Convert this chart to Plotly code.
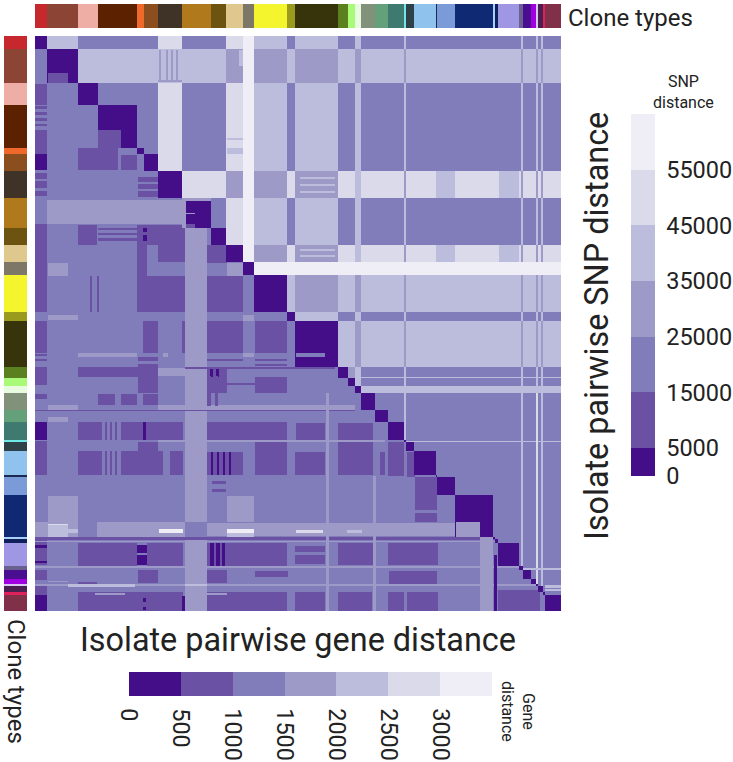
import numpy as np
import plotly.graph_objects as go

FONT = "Roboto"
INK = "#222222"

# clone types along the isolate order
clone_colors = [
    "#c7282e", "#8c4534", "#efaea5", "#5c2200", "#ef6a2a", "#8a4e1f", "#3f3226",
    "#b07a1c", "#6c5410", "#dfc88e", "#7d7767", "#f5f52e", "#9a9a1e", "#37340c",
    "#5a8020", "#a8fa78", "#e8fbe0", "#82917a", "#64a07a", "#3f7a70", "#6fe8e8",
    "#2e4048", "#8fc3ee", "#1a2a50", "#7a9ad8", "#0f2a72", "#a8d0f8", "#10205a",
    "#9f96e4", "#6a6090", "#4a0f90", "#a000e0", "#d8c8f0", "#4a2050", "#e0205a",
    "#803048",
]
clone_col_edges = [0, 12, 43, 63, 102, 109, 123, 147, 176, 191, 208, 219, 252, 260, 303,
                   313, 320, 326, 340, 353, 369, 371, 379, 401, 402, 420, 458, 460, 463,
                   484, 488, 496, 501, 503, 508, 510, 526]
clone_row_edges = [0, 13, 47, 69, 112, 118, 135, 162, 192, 209, 226, 239, 276, 285, 331,
                   342, 350, 357, 374, 386, 404, 406, 415, 439, 441, 459, 501, 503, 507,
                   530, 534, 543, 548, 550, 556, 559, 575]

# colour bands of the two legends
purples = ["#430e87", "#6a51a3", "#807dba", "#9e9ac8", "#bcbddc", "#dadaeb", "#efedf5"]
snp_bands = [0, 5000, 15000, 25000, 35000, 45000, 55000, 65000]
gene_bands = [0, 500, 1000, 1500, 2000, 2500, 3000, 3500]
snp_ticks = [0, 5000, 15000, 25000, 35000, 45000, 55000]
gene_ticks = [0, 500, 1000, 1500, 2000, 2500, 3000]

# upper triangle: SNP band per row group / column group, one digit per column group
snp_group_cols = [0, 12, 43, 123, 147, 191, 208, 219, 252, 260, 303, 313, 320, 326, 369,
                  371, 486, 488, 501, 503, 506, 508, 510, 526]
snp_group_rows = [0, 13, 47, 135, 162, 209, 226, 239, 276, 285, 331, 342, 350, 357, 575]
snp_table = [
    "04252564242242424242422",
    "00444363434434343434344",
    "00252564242242424242422",
    "00005363535545353535355",
    "00002564242242424242422",
    "00000063535545353535355",
    "66666666666666666666666",
    "00000000434434343434344",
    "00000000042242424242422",
    "00000000004434343434344",
    "00000000000342424242422",
    "00000000000042424242422",
    "00000000000004444444444",
    "00000000000002424242422",
]
# (col from, col to, row from, row to, band)
snp_patches = [
    (124, 126, 14, 46, 3), (131, 133, 14, 46, 3), (136, 138, 14, 46, 3), (141, 143, 14, 46, 3),
    (123, 147, 44, 46, 3), (204, 208, 14, 30, 4), (192, 208, 102, 104, 4), (192, 208, 112, 118, 4),
    (265, 300, 141, 143, 4), (265, 300, 148, 150, 4), (265, 300, 155, 157, 4),
    (265, 300, 213, 215, 4), (265, 300, 219, 221, 4),
    (401, 420, 135, 162, 4), (464, 484, 135, 162, 4), (401, 420, 209, 226, 4), (464, 484, 209, 226, 4),
    (326, 526, 341, 342, 4), (369, 526, 405, 406, 4),
    (501, 503, 357, 575, 5), (488, 526, 532, 534, 4), (510, 526, 549, 552, 4), (510, 526, 553, 555, 4),
]

# lower triangle: gene band, everything starts in band 2
gene_patches = [
    (12, 151, 164, 188, 3), (150, 172, 187, 575, 3),
    (0, 12, 48, 69, 1), (0, 12, 70, 73, 1), (0, 12, 76, 79, 1), (0, 12, 82, 85, 1), (0, 12, 88, 90, 1),
    (0, 12, 94, 118, 1), (0, 12, 118, 134, 0), (0, 12, 137, 143, 1), (0, 12, 145, 152, 1),
    (0, 12, 155, 160, 1), (0, 12, 188, 276, 1), (0, 12, 285, 317, 1), (0, 12, 318, 320, 1),
    (0, 12, 323, 325, 1), (0, 12, 331, 349, 1), (0, 12, 358, 363, 1), (0, 12, 386, 404, 0),
    (0, 12, 405, 439, 1), (0, 12, 504, 529, 1), (0, 12, 509, 512, 0), (0, 12, 525, 527, 0),
    (0, 12, 534, 544, 1), (0, 12, 550, 559, 1), (0, 12, 559, 575, 0),
    (43, 83, 112, 134, 1), (86, 102, 119, 134, 1),
    (103, 123, 141, 146, 1), (103, 123, 148, 153, 1), (103, 123, 155, 161, 1),
    (43, 62, 189, 209, 1), (63, 102, 192, 194, 1), (63, 102, 197, 199, 1), (63, 102, 202, 205, 1),
    (102, 150, 189, 209, 1), (108, 112, 192, 196, 0), (108, 112, 199, 205, 0),
    (102, 112, 209, 240, 1), (123, 150, 209, 226, 1), (172, 192, 209, 227, 1), (192, 208, 227, 240, 3),
    (13, 33, 227, 240, 3), (102, 150, 240, 276, 1), (172, 208, 240, 276, 1),
    (55, 57, 240, 276, 1), (62, 64, 240, 276, 1),
    (13, 43, 279, 284, 3), (208, 219, 279, 285, 3),
    (108, 123, 285, 317, 1), (147, 150, 285, 317, 1), (172, 208, 285, 317, 1), (220, 252, 285, 317, 1),
    (43, 102, 317, 321, 3), (128, 133, 317, 321, 3), (208, 219, 317, 321, 3),
    (103, 123, 321, 325, 1), (103, 123, 328, 331, 1), (172, 208, 323, 325, 1),
    (220, 252, 323, 325, 1), (220, 252, 328, 330, 1),
    (43, 123, 331, 341, 1), (123, 150, 332, 340, 3), (172, 192, 331, 341, 1),
    (175, 178, 331, 345, 0), (181, 184, 331, 345, 0), (150, 300, 331, 333, 1),
    (103, 123, 341, 357, 1), (220, 252, 341, 357, 1), (172, 192, 341, 357, 1), (192, 220, 347, 349, 1),
    (63, 80, 358, 369, 1), (86, 102, 358, 369, 1), (108, 123, 358, 369, 1),
    (13, 43, 369, 374, 3), (123, 320, 369, 374, 3), (0, 320, 374, 375, 1), (13, 33, 381, 386, 3),
    (172, 176, 340, 370, 1), (180, 183, 340, 370, 1),
    (43, 67, 386, 404, 1), (70, 72, 386, 404, 1), (75, 77, 386, 404, 1), (80, 82, 386, 404, 1),
    (86, 108, 386, 404, 1), (108, 111, 386, 404, 0), (111, 148, 386, 404, 1),
    (172, 252, 386, 404, 1), (261, 290, 387, 404, 1), (303, 338, 387, 404, 1),
    (123, 350, 404, 406, 3), (103, 123, 406, 415, 1),
    (43, 67, 415, 439, 1), (70, 72, 415, 439, 1), (75, 77, 415, 439, 1), (80, 82, 415, 439, 1),
    (86, 128, 415, 439, 1), (135, 148, 415, 439, 1), (172, 208, 416, 439, 1),
    (176, 178, 416, 439, 0), (182, 184, 416, 439, 0), (188, 190, 416, 439, 0), (194, 196, 416, 439, 0),
    (220, 252, 406, 439, 1), (260, 290, 416, 439, 1), (303, 338, 406, 439, 1), (345, 350, 416, 439, 1),
    (353, 369, 406, 440, 1), (372, 380, 416, 441, 1), (380, 402, 441, 474, 1), (380, 402, 477, 486, 1),
    (177, 191, 445, 448, 1), (177, 191, 453, 456, 1),
    (13, 43, 460, 501, 3), (192, 219, 460, 486, 3),
    (0, 13, 486, 501, 3), (62, 150, 486, 501, 3), (172, 420, 487, 500, 3), (150, 172, 486, 501, 2),
    (13, 33, 489, 501, 4), (13, 33, 488, 489, 5), (33, 43, 493, 497, 4), (124, 148, 493, 497, 6),
    (192, 219, 493, 497, 6), (192, 219, 497, 501, 4), (261, 288, 494, 497, 5), (312, 327, 494, 497, 4),
    (0, 463, 501, 504, 1), (0, 463, 505, 506, 3),
    (43, 102, 507, 530, 1), (102, 112, 509, 517, 0), (102, 112, 519, 529, 0), (112, 148, 507, 530, 1),
    (172, 188, 507, 530, 1), (175, 179, 507, 530, 0), (181, 185, 507, 530, 0), (187, 190, 507, 530, 0),
    (190, 252, 507, 530, 1), (260, 290, 510, 516, 1), (260, 290, 519, 528, 1),
    (303, 338, 507, 529, 1), (353, 403, 507, 529, 1), (0, 488, 530, 532, 3),
    (103, 123, 534, 547, 1), (172, 192, 534, 547, 1), (220, 253, 535, 541, 1), (354, 402, 535, 548, 1),
    (13, 33, 545, 546, 3), (43, 62, 546, 549, 1),
    (0, 526, 548, 550, 3), (33, 100, 548, 551, 4), (150, 172, 548, 550, 4),
    (43, 148, 556, 575, 1), (172, 252, 556, 575, 1), (260, 290, 556, 575, 1), (303, 337, 556, 575, 1),
    (353, 369, 556, 575, 1), (372, 403, 556, 575, 1), (463, 505, 554, 575, 1),
    (60, 90, 557, 559, 3), (172, 192, 557, 559, 3),
    (108, 111, 562, 566, 0), (108, 111, 571, 574, 0), (147, 150, 560, 575, 0),
    (445, 458, 500, 575, 3), (459, 462, 519, 575, 0), (338, 341, 440, 575, 3), (291, 294, 357, 575, 3),
]
# inside one clone: distance 0 unless listed here
within_clone_patches = [
    (13, 33, 37, 47, 1), (63, 86, 94, 112, 1),
    (147, 176, 162, 165, 3), (147, 151, 162, 192, 3), (151, 160, 188, 192, 1), (151, 160, 177, 178, 3),
    (261, 290, 317, 321, 2), (421, 445, 486, 501, 3),
]


def paint(grid, mask, patches):
    for c0, c1, r0, r1, band in patches:
        grid[r0:r1, c0:c1][mask[r0:r1, c0:c1]] = band


def band_scale(bands):
    span = bands[-1] - bands[0]
    scale = []
    for i, c in enumerate(purples):
        scale.append([bands[i] / span, c])
        scale.append([bands[i + 1] / span, c])
    return scale


n_cols = clone_col_edges[-1]
n_rows = clone_row_edges[-1]
col_clone = np.searchsorted(clone_col_edges, np.arange(n_cols), side="right")
row_clone = np.searchsorted(clone_row_edges, np.arange(n_rows), side="right")
upper = row_clone[:, None] < col_clone[None, :]
same = row_clone[:, None] == col_clone[None, :]
lower = row_clone[:, None] > col_clone[None, :]

levels = np.full((n_rows, n_cols), 2)
for i, text in enumerate(snp_table):
    for j, digit in enumerate(text):
        block = levels[snp_group_rows[i]:snp_group_rows[i + 1], snp_group_cols[j]:snp_group_cols[j + 1]]
        block[upper[snp_group_rows[i]:snp_group_rows[i + 1], snp_group_cols[j]:snp_group_cols[j + 1]]] = int(digit)
levels[same] = 0
levels[lower] = 2
paint(levels, upper, snp_patches)
paint(levels, lower, gene_patches)
paint(levels, same, within_clone_patches)

snp_mid = (np.array(snp_bands[:-1]) + np.array(snp_bands[1:])) / 2
gene_mid = (np.array(gene_bands[:-1]) + np.array(gene_bands[1:])) / 2
snp_z = np.where(upper, snp_mid[levels], np.nan)
gene_z = np.where(upper, np.nan, gene_mid[levels])

W, H = 733, 762
plot_x0, plot_x1, plot_y0, plot_y1 = 35, 561, 36, 611

fig = go.Figure()
fig.add_trace(go.Heatmap(
    z=snp_z, x0=0.5, dx=1, y0=0.5, dy=1, zmin=snp_bands[0], zmax=snp_bands[-1],
    colorscale=band_scale(snp_bands), hoverinfo="skip",
    colorbar=dict(
        x=631 / W, xanchor="left", y=(H - 476) / H, yanchor="bottom",
        len=362, lenmode="pixels", thickness=24, thicknessmode="pixels",
        xpad=0, ypad=0, outlinewidth=0, tickmode="array", tickvals=snp_ticks,
        ticktext=[str(v) for v in snp_ticks],
        ticks="outside", ticklen=7, tickcolor="rgba(0,0,0,0)",
        tickfont=dict(family=FONT, size=23.5, color=INK),
    ),
))
fig.add_trace(go.Heatmap(
    z=gene_z, x0=0.5, dx=1, y0=0.5, dy=1, zmin=gene_bands[0], zmax=gene_bands[-1],
    colorscale=band_scale(gene_bands), hoverinfo="skip",
    colorbar=dict(
        orientation="h", x=129 / W, xanchor="left", y=(H - 672) / H, yanchor="top",
        len=363, lenmode="pixels", thickness=24, thicknessmode="pixels",
        xpad=0, ypad=0, outlinewidth=0, tickmode="array", tickvals=gene_ticks,
        ticktext=[str(v) for v in gene_ticks],
        ticks="outside", ticklen=8, tickcolor="rgba(0,0,0,0)", tickangle=90,
        tickfont=dict(family=FONT, size=23.5, color=INK),
    ),
))

clone_scale = [[i / (len(clone_colors) - 1), c] for i, c in enumerate(clone_colors)]
clone_ids = list(range(len(clone_colors)))
fig.add_trace(go.Heatmap(
    z=[clone_ids], x=clone_col_edges, y=[0, 1], xaxis="x", yaxis="y2",
    colorscale=clone_scale, showscale=False, hoverinfo="skip",
))
fig.add_trace(go.Heatmap(
    z=[[i] for i in clone_ids], x=[0, 1], y=clone_row_edges, xaxis="x2", yaxis="y",
    colorscale=clone_scale, showscale=False, hoverinfo="skip",
))

hidden = dict(visible=False, showgrid=False, zeroline=False)
fig.update_layout(
    width=W, height=H, margin=dict(l=0, r=0, t=0, b=0),
    paper_bgcolor="white", plot_bgcolor="white", showlegend=False,
    xaxis=dict(domain=[plot_x0 / W, plot_x1 / W], range=[0, n_cols], anchor="y", **hidden),
    yaxis=dict(domain=[(H - plot_y1) / H, (H - plot_y0) / H], range=[n_rows, 0], anchor="x", **hidden),
    xaxis2=dict(domain=[4 / W, 27 / W], range=[0, 1], anchor="y", **hidden),
    yaxis2=dict(domain=[(H - 28) / H, (H - 4) / H], range=[0, 1], anchor="x", **hidden),
)


def label(text, x, y, size, angle=0):
    fig.add_annotation(
        text=text, x=x / W, y=(H - y) / H, xref="paper", yref="paper", showarrow=False,
        textangle=angle, font=dict(family=FONT, size=size, color=INK),
        xanchor="center", yanchor="middle", align="center",
    )


label("Clone types", 630, 18, 24)
label("Clone types", 16, 681, 24, 90)
label("Isolate pairwise gene distance", 298, 640, 32.4)
label("Isolate pairwise SNP distance", 597, 326, 32.4, -90)
label("SNP<br>distance", 683, 92, 16)
label("Gene<br>distance", 518, 711, 16, 90)

fig.write_html("out.html", post_script="document.body.style.margin='0';",
               config={"displayModeBar": False})
